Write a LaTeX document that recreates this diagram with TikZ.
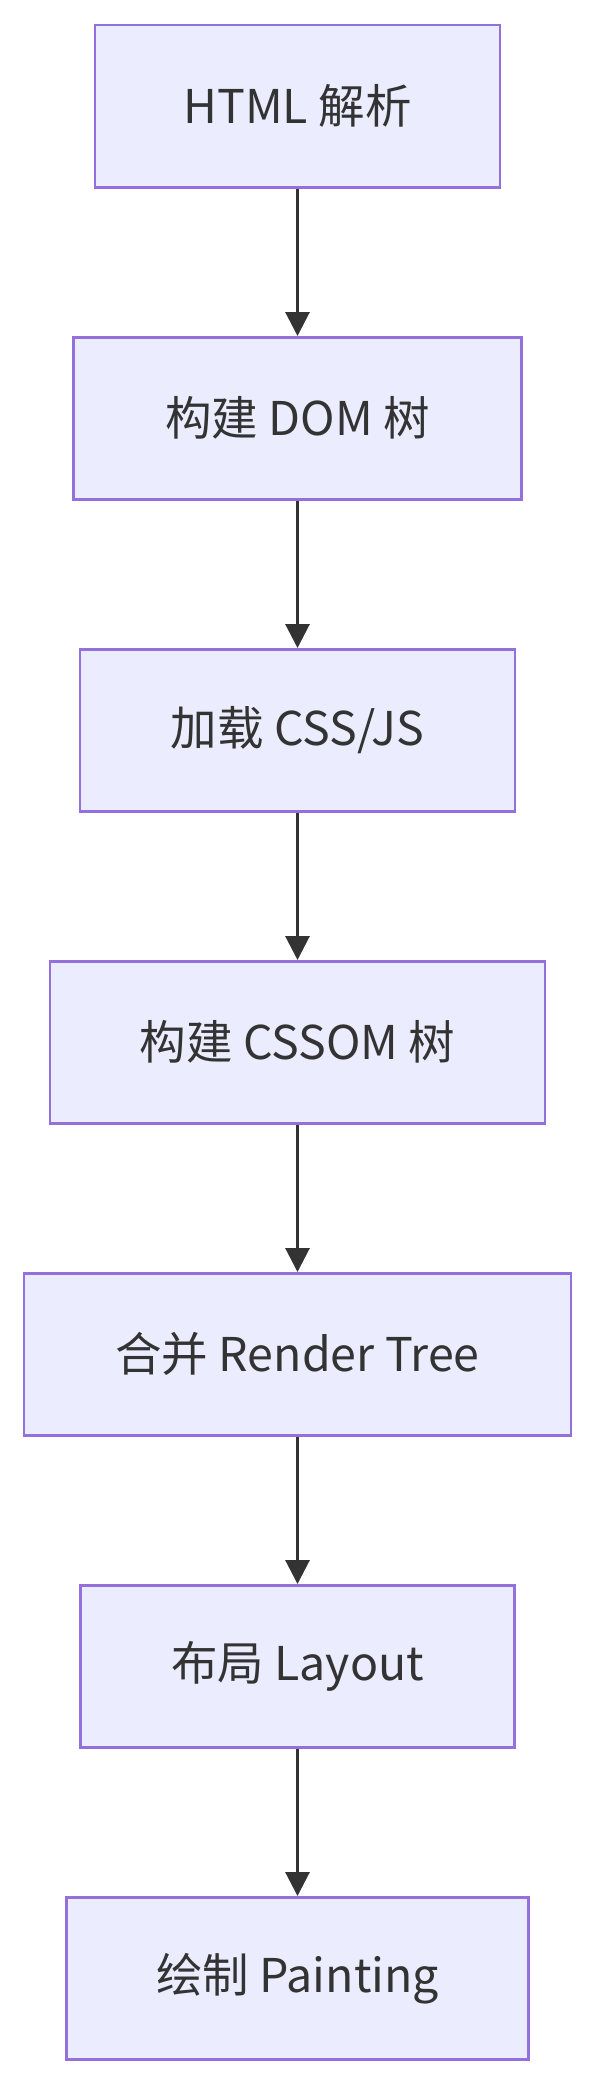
\documentclass[tikz,border=0pt]{standalone}
\usepackage{fontspec}
\setmainfont{Noto Sans CJK SC}
\usetikzlibrary{arrows.meta}
\definecolor{boxfill}{HTML}{ECECFF}
\definecolor{boxline}{HTML}{9370DB}
\definecolor{ink}{HTML}{333333}
\begin{document}
\begin{tikzpicture}[x=1pt,y=1pt,
  stepbox/.style={draw=boxline,fill=boxfill,line width=2.5pt,minimum height=162pt,
    inner sep=0pt,text=ink,font=\fontsize{46.5}{54}\selectfont,anchor=north},
  flow/.style={draw=ink,line width=3pt,-{Triangle[width=24pt,length=24pt]}}]
\useasboundingbox (0,0) rectangle (595,-2082);
\fill[white] (0,0) rectangle (595,-2082);
\node[stepbox,minimum width=405pt] (a) at (297.5,-24) {HTML 解析};
\node[stepbox,minimum width=448pt] (b) at (297.5,-336) {构建 DOM 树};
\node[stepbox,minimum width=435pt] (c) at (297.5,-648) {加载 CSS/JS};
\node[stepbox,minimum width=495pt] (d) at (297.5,-960) {构建 CSSOM 树};
\node[stepbox,minimum width=547pt] (e) at (297.5,-1272) {合并 Render Tree};
\node[stepbox,minimum width=434pt] (f) at (297.5,-1584) {布局 Layout};
\node[stepbox,minimum width=462pt] (g) at (297.5,-1896) {绘制 Painting};
\draw[flow] (a) -- (b);
\draw[flow] (b) -- (c);
\draw[flow] (c) -- (d);
\draw[flow] (d) -- (e);
\draw[flow] (e) -- (f);
\draw[flow] (f) -- (g);
\end{tikzpicture}
\end{document}
